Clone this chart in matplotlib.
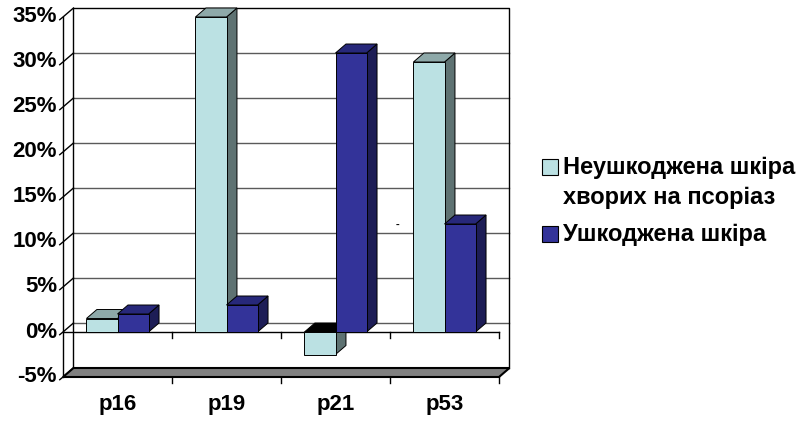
import matplotlib
matplotlib.use('Agg')
import matplotlib.pyplot as plt
from matplotlib.patches import Polygon, Rectangle

plt.rcParams['font.family'] = ['Liberation Sans', 'DejaVu Sans']

categories = ['p16', 'p19', 'p21', 'p53']
healthy = [1.5, 35.0, -2.5, 30.0]   # неушкоджена шкіра, %
lesion = [2.0, 3.0, 31.0, 12.0]     # ушкоджена шкіра, %
yticks = [-5, 0, 5, 10, 15, 20, 25, 30, 35]
labels = ['Неушкоджена шкіра\nхворих на псоріаз', 'Ушкоджена шкіра']

W, H = 802, 422
fig = plt.figure(figsize=(W / 100, H / 100), dpi=100)
ax = fig.add_axes([63 / W, 1 - 377 / H, 436 / W, 360 / H])
ax.set_xlim(-0.5, len(categories) - 0.5)
ax.set_ylim(yticks[0], yticks[-1])
ax.axis('off')

DX, DY = 0.096, 1.0   # depth of the fake 3d box
BW = 0.285
x0, x1 = -0.5, len(categories) - 0.5
lo, hi = yticks[0], yticks[-1]

# back wall gridlines + frame
for v in yticks[1:-1]:
    ax.plot([x0 + DX, x1 + DX], [v + DY, v + DY], color='#5a5a5a', lw=1, zorder=1, clip_on=False)
ax.plot([x0 + DX, x0 + DX, x1 + DX, x1 + DX], [lo + DY, hi + DY, hi + DY, lo + DY],
        color='black', lw=1, zorder=1, clip_on=False)
# left wall diagonals
for v in yticks:
    ax.plot([x0 - 0.03, x0, x0 + DX], [v - 0.3, v, v + DY], color='black', lw=1, zorder=1, clip_on=False)
ax.plot([x0, x0], [lo, hi], color='black', lw=1, zorder=1, clip_on=False)

# floor slab
ax.add_patch(Polygon([(x0, lo), (x1, lo), (x1 + DX, lo + DY), (x0 + DX, lo + DY)],
                     closed=True, facecolor='#808080', edgecolor='black', lw=1.5, zorder=1, clip_on=False))
ax.plot([x0, x1], [0, 0], color='black', lw=1, zorder=1, clip_on=False)
for i in range(len(categories)):
    xb = i + 0.5
    ax.plot([xb, xb], [0, -0.7], color='black', lw=1, zorder=1, clip_on=False)
    ax.plot([xb, xb], [lo, lo - 0.7], color='black', lw=1, zorder=1, clip_on=False)

series = [
    (healthy, -BW, '#bbe1e3', '#8ea9a9', '#5e7272'),
    (lesion, 0.0, '#333399', '#27287a', '#1d1d56'),
]

for i in range(len(categories)):
    for vals, off, cface, ctop, cside in series:
        v = vals[i]
        xa = i + off
        top, bot = max(v, 0), min(v, 0)
        ax.add_patch(Polygon([(xa + BW, bot), (xa + BW, top), (xa + BW + DX, top + DY), (xa + BW + DX, bot + DY)],
                             closed=True, facecolor=cside, edgecolor='black', lw=0.7, zorder=2, clip_on=False))
        ax.add_patch(Polygon([(xa, top), (xa + BW, top), (xa + BW + DX, top + DY), (xa + DX, top + DY)],
                             closed=True, facecolor=ctop if v >= 0 else 'black', edgecolor='black',
                             lw=0.7, zorder=2, clip_on=False))
        ax.bar(xa, v, width=BW, align='edge', color=cface, edgecolor='black', lw=0.7, zorder=2, clip_on=False)

for v in yticks:
    ax.text(x0 - 0.055, v, f'{v}%', ha='right', va='center', fontsize=16, fontweight='bold')
for i, c in enumerate(categories):
    ax.text(i, lo - 3.1, c, ha='center', va='center', fontsize=16, fontweight='bold')

ax.text(2.57, 11.9, '-', ha='center', va='center', fontsize=8, fontweight='bold')

# legend
fig.add_artist(Rectangle((542 / W, 1 - 175 / H), 16 / W, 16 / H, transform=fig.transFigure,
                         facecolor=series[0][2], edgecolor='black', lw=0.8))
fig.add_artist(Rectangle((542 / W, 1 - 242 / H), 16 / W, 16 / H, transform=fig.transFigure,
                         facecolor=series[1][2], edgecolor='black', lw=0.8))
line1, line2 = labels[0].split('\n')
fig.text(563 / W, 1 - 174 / H, line1, ha='left', va='baseline', fontsize=17, fontweight='bold')
fig.text(563 / W, 1 - 204 / H, line2, ha='left', va='baseline', fontsize=17, fontweight='bold')
fig.text(563 / W, 1 - 241 / H, labels[1], ha='left', va='baseline', fontsize=17, fontweight='bold')

fig.savefig('out.png', dpi=100)
